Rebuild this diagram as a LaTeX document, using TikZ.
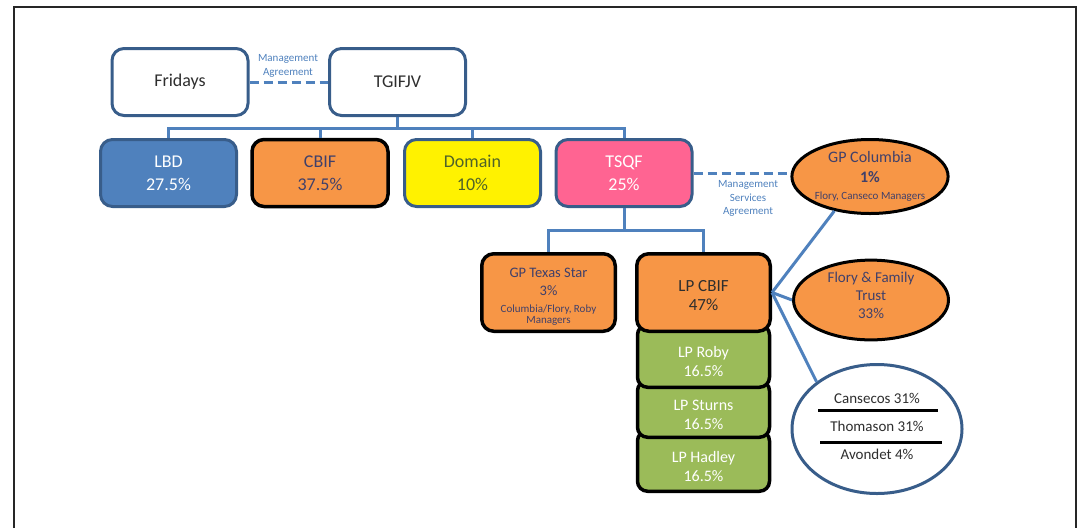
\documentclass[tikz,border=0pt]{standalone}
\usepackage{fontspec}
\setmainfont{Carlito}
\usetikzlibrary{shapes.geometric}
\definecolor{bordblue}{HTML}{385D8A}
\definecolor{lineblue}{HTML}{4F81BD}
\definecolor{lbdblue}{HTML}{4F81BD}
\definecolor{orng}{HTML}{F79646}
\definecolor{pinkfill}{HTML}{FF6492}
\definecolor{grn}{HTML}{9BBB59}
\definecolor{txtdark}{HTML}{2E2E2E}
\definecolor{txtslate}{HTML}{40406A}
\definecolor{txtolive}{HTML}{4F6228}
\newcommand{\topstrut}{\rule{0pt}{22pt}}
\newcommand{\smallline}[1]{{\fontsize{11}{12}\selectfont #1}}
\begin{document}
\begin{tikzpicture}[x=1pt,y=-1pt,
 orgbox/.style={rectangle, rounded corners=12pt, line width=3pt, inner sep=0pt, align=center,
   minimum width=136pt, minimum height=67pt, font=\fontsize{18}{23}\selectfont},
 bluebord/.style={draw=bordblue},
 blackbord/.style={draw=black, line width=3.5pt},
 lowbox/.style={orgbox, blackbord, minimum width=133.5pt, minimum height=77.5pt},
 grnbox/.style={orgbox, blackbord, rounded corners=10pt, fill=grn, text=white, minimum width=132pt,
   font=\fontsize{16}{19}\selectfont},
 conn/.style={draw=lineblue, line width=3pt},
 dashconn/.style={conn, dash pattern=on 9pt off 5pt},
 oval/.style={ellipse, draw=black, line width=3pt, fill=orng, inner sep=0pt, align=center, text=txtslate},
 smalllabel/.style={font=\fontsize{11}{14}\selectfont, text=lineblue, align=center, inner sep=0pt},
]
\useasboundingbox (0,0) rectangle (1078,528);
% outer frame (open at the bottom)
\draw[line width=2pt, black!85] (14,528) -- (14,7) -- (1076,7) -- (1076,528);

\coordinate (y128) at (0,128);
\coordinate (y230) at (0,230);

% top row
\node[orgbox, bluebord, fill=white, text=txtdark] (fridays) at (180,82) {Fridays};
\node[orgbox, bluebord, fill=white, text=txtdark] (tgif) at (397.5,82) {TGIFJV};

% second row
\node[orgbox, bluebord, fill=lbdblue, text=white] (lbd) at (168.5,173) {LBD\\27.5\%};
\node[orgbox, blackbord, fill=orng, text=txtslate] (cbif) at (320,173) {CBIF\\37.5\%};
\node[orgbox, bluebord, fill=yellow, text=txtolive] (domain) at (472.5,173) {Domain\\10\%};
\node[orgbox, bluebord, fill=pinkfill, text=white] (tsqf) at (624,173) {TSQF\\25\%};

% green stack (each box runs up behind the one above it)
\node[grnbox, minimum height=60.5pt] (hadley) at (703.5,461) {\topstrut LP Hadley\\16.5\%};
\node[grnbox, minimum height=56.5pt] (sturns) at (703.5,409) {\topstrut LP Sturns\\16.5\%};
\node[grnbox, minimum height=62.5pt] (roby) at (703.5,356) {\topstrut LP Roby\\16.5\%};

% third row
\node[lowbox, fill=orng, text=txtslate, font=\fontsize{14.5}{12}\selectfont] (gpts) at (548.5,292.5)
  {\rule{0pt}{17pt}GP Texas Star\\[6pt]3\%\\[5pt]\smallline{Columbia/Flory, Roby}\\[-1pt]\smallline{Managers}};
\node[lowbox, fill=orng, text=txtdark, font=\fontsize{17}{19}\selectfont] (lpcbif) at (703.5,292.5)
  {\rule{0pt}{17pt}LP CBIF\\47\%};

% ovals
\node[oval, minimum width=153pt, minimum height=74pt, font=\fontsize{16}{12}\selectfont] (gpc) at (870,176.5)
  {GP Columbia\\[8pt]\textbf{1\%}\\[5pt]\smallline{Flory, Canseco Managers}};
\node[oval, minimum width=155pt, minimum height=73pt, font=\fontsize{15}{18}\selectfont] (flory) at (871,300)
  {Flory \& Family\\Trust\\33\%\rule[-10pt]{0pt}{10pt}};
\node[ellipse, draw=bordblue, line width=3pt, fill=white, inner sep=0pt, align=center, text=txtdark,
  minimum width=170pt, minimum height=129pt, font=\fontsize{15}{28}\selectfont] (owners) at (877,429)
  {Cansecos 31\%\\Thomason 31\%\\Avondet 4\%\rule[-6pt]{0pt}{6pt}};
\draw[line width=3pt, black] ([shift={(-59,-19)}]owners.center) -- ([shift={(61,-19)}]owners.center);
\draw[line width=3pt, black] ([shift={(-57,13)}]owners.center) -- ([shift={(65,13)}]owners.center);

% labels
\node[smalllabel] (magr) at (288,65.5) {Management\\Agreement};
\node[smalllabel, font=\fontsize{11}{13.5}\selectfont] (msa) at (748,198.5) {Management\\Services\\Agreement};

% connectors
\draw[dashconn] (fridays.east) -- (tgif.west);
\draw[dashconn] (tsqf.east) -- (tsqf.east -| gpc.west);
\coordinate (bus1) at (tgif.south |- y128);
\draw[conn] (tgif.south) -- (bus1);
\draw[conn] (bus1) -| (lbd.north);
\draw[conn] (bus1) -| (cbif.north);
\draw[conn] (bus1) -| (domain.north);
\draw[conn] (bus1) -| (tsqf.north);
\coordinate (bus2) at (tsqf.south |- y230);
\draw[conn] (tsqf.south) -- (bus2);
\draw[conn] (bus2) -| (gpts.north);
\draw[conn] (bus2) -| (lpcbif.north);
\draw[conn] (lpcbif.east) -- (gpc.224);
\draw[conn] (lpcbif.east) -- (flory.west);
\draw[conn] (lpcbif.east) -- (owners.142);
\end{tikzpicture}
\end{document}
